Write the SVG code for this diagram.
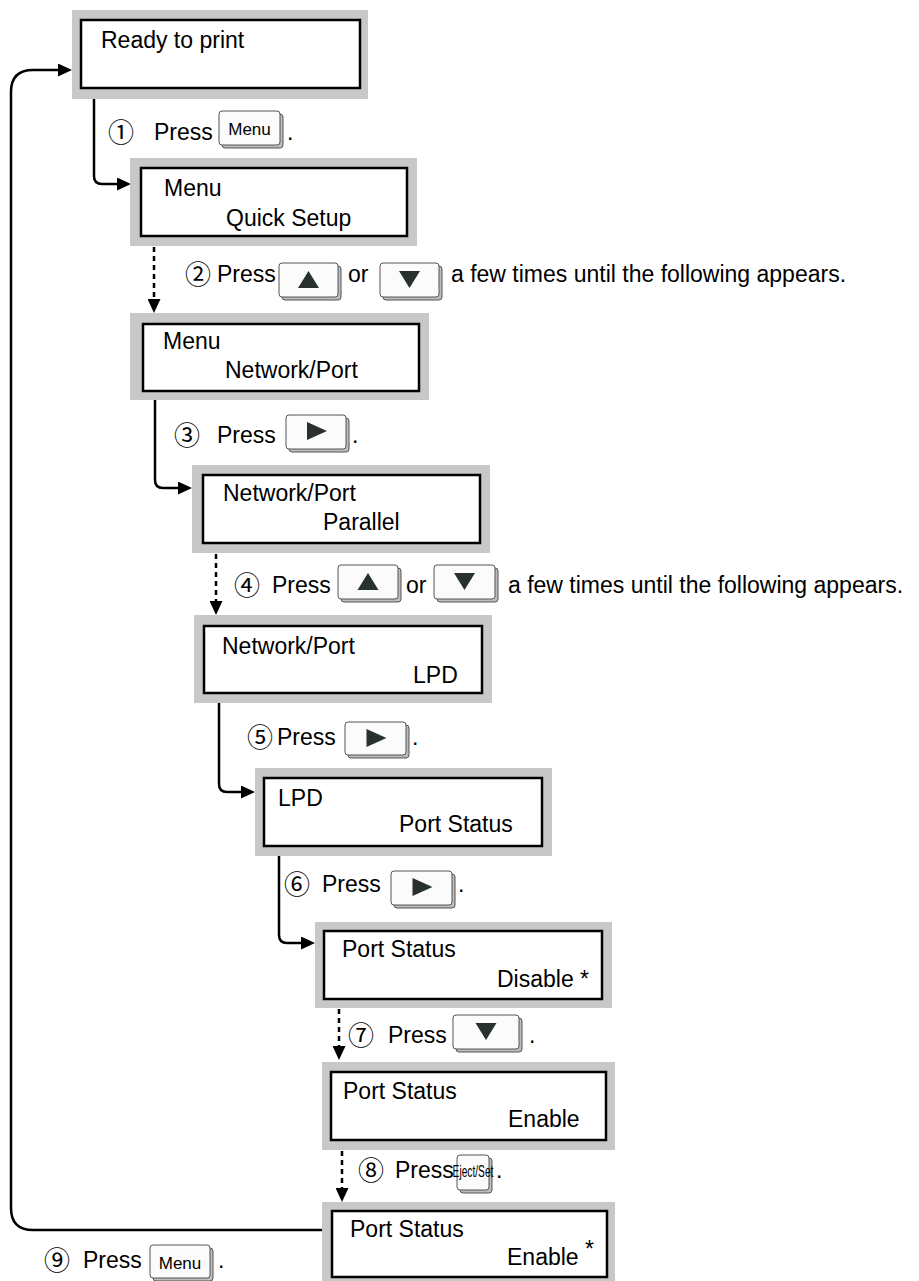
<svg xmlns="http://www.w3.org/2000/svg" width="919" height="1281" viewBox="0 0 919 1281">
<style>
.g{fill:#c8c8c8}
.in{fill:#fff;stroke:#000;stroke-width:2.5}
.t{font-family:"Liberation Sans",Arial,sans-serif;font-size:23px;fill:#000}
.c{font-family:"Noto Sans CJK JP","Noto Sans CJK SC",sans-serif;font-size:26px;fill:#000}
.conn{fill:none;stroke:#000;stroke-width:2.5}
.dash{stroke-dasharray:5 4}
.kb{fill:#bdbdbd;stroke:#555;stroke-width:1}
.kf{fill:#fbfbfb;stroke:#555;stroke-width:1}
.tri{fill:#283030}
.kt{font-family:"Liberation Sans",Arial,sans-serif;font-size:17px;fill:#000;text-anchor:middle}
</style>
<defs>
<marker id="ah" viewBox="0 0 14 13" refX="0" refY="6.5" markerWidth="14" markerHeight="13" markerUnits="userSpaceOnUse" orient="auto"><path d="M0,0 L14,6.5 L0,13z" fill="#000"/></marker>
</defs>
<rect width="919" height="1281" fill="#fff"/>

<g id="connectors">
<path class="conn" d="M94,99 V176 Q94,184 102,184 H117" marker-end="url(#ah)"/>
<path class="conn dash" d="M154,247 V299" marker-end="url(#ah)"/>
<path class="conn" d="M155,400 V480 Q155,488 163,488 H178" marker-end="url(#ah)"/>
<path class="conn dash" d="M216,554 V601" marker-end="url(#ah)"/>
<path class="conn" d="M219,703 V784 Q219,792 227,792 H241" marker-end="url(#ah)"/>
<path class="conn" d="M279,856 V935 Q279,943 287,943 H301" marker-end="url(#ah)"/>
<path class="conn dash" d="M339,1009 V1046" marker-end="url(#ah)"/>
<path class="conn dash" d="M342,1151 V1188" marker-end="url(#ah)"/>
<path class="conn" d="M322,1230 H33 Q11,1230 11,1208 V92 Q11,70 33,70 H58" marker-end="url(#ah)"/>
</g>

<g id="n1"><rect class="g" x="72" y="10" width="296" height="89"/><rect class="in" x="81" y="20" width="279" height="68"/><text class="t" x="101" y="48">Ready to print</text></g>
<g id="n2"><rect class="g" x="130" y="158" width="287" height="88"/><rect class="in" x="141" y="168" width="266" height="68"/><text class="t" x="164" y="196">Menu</text><text class="t" x="226" y="226">Quick Setup</text></g>
<g id="n3"><rect class="g" x="130" y="313" width="299" height="87"/><rect class="in" x="143" y="324" width="276" height="67"/><text class="t" x="163" y="349">Menu</text><text class="t" x="225" y="378">Network/Port</text></g>
<g id="n4"><rect class="g" x="192" y="465" width="298" height="88"/><rect class="in" x="203" y="475" width="277" height="68"/><text class="t" x="223" y="501">Network/Port</text><text class="t" x="323" y="530">Parallel</text></g>
<g id="n5"><rect class="g" x="194" y="615" width="298" height="88"/><rect class="in" x="204" y="626" width="278" height="67"/><text class="t" x="222" y="654">Network/Port</text><text class="t" x="413" y="683">LPD</text></g>
<g id="n6"><rect class="g" x="255" y="768" width="297" height="88"/><rect class="in" x="264" y="778" width="278" height="68"/><text class="t" x="278" y="806">LPD</text><text class="t" x="399" y="832">Port Status</text></g>
<g id="n7"><rect class="g" x="315" y="922" width="297" height="86"/><rect class="in" x="324" y="931" width="278" height="68"/><text class="t" x="342" y="957">Port Status</text><text class="t" x="497" y="987">Disable *</text></g>
<g id="n8"><rect class="g" x="322" y="1062" width="293" height="88"/><rect class="in" x="331" y="1072" width="275" height="68"/><text class="t" x="343" y="1099">Port Status</text><text class="t" x="508" y="1127">Enable</text></g>
<g id="n9"><rect class="g" x="322" y="1202" width="293" height="90"/><rect class="in" x="332" y="1211" width="275" height="66"/><text class="t" x="350" y="1237">Port Status</text><text class="t" x="507" y="1265">Enable</text><text class="t" x="585" y="1257">*</text></g>

<g id="labels">
<text class="c" x="108" y="142">①</text><text class="t" x="154" y="140">Press</text>
<rect class="kb" x="222" y="114" width="61" height="34" rx="3"/><rect class="kf" x="219" y="111" width="61" height="34" rx="3"/><text class="kt" x="249.5" y="135">Menu</text><text class="t" x="287" y="140">.</text>

<text class="c" x="185" y="284">②</text><text class="t" x="217" y="282">Press</text>
<rect class="kb" x="282" y="266" width="59" height="34" rx="3"/><rect class="kf" x="279" y="263" width="59" height="34" rx="3"/><polygon class="tri" points="298,288 319,288 308.5,271"/>
<text class="t" x="348" y="282">or</text>
<rect class="kb" x="383" y="266" width="59" height="34" rx="3"/><rect class="kf" x="380" y="263" width="59" height="34" rx="3"/><polygon class="tri" points="399,271 420,271 409.5,288"/>
<text class="t" x="451" y="282">a few times until the following appears.</text>

<text class="c" x="174" y="445">③</text><text class="t" x="217" y="443">Press</text>
<rect class="kb" x="289" y="418" width="60" height="34" rx="3"/><rect class="kf" x="286" y="415" width="60" height="34" rx="3"/><polygon class="tri" points="307,422 307,440 327,431"/><text class="t" x="352" y="443">.</text>

<text class="c" x="234" y="595">④</text><text class="t" x="272" y="593">Press</text>
<rect class="kb" x="341" y="568" width="60" height="34" rx="3"/><rect class="kf" x="338" y="565" width="60" height="34" rx="3"/><polygon class="tri" points="357.5,590 378.5,590 368,573"/>
<text class="t" x="406" y="593">or</text>
<rect class="kb" x="437" y="568" width="61" height="34" rx="3"/><rect class="kf" x="434" y="565" width="61" height="34" rx="3"/><polygon class="tri" points="454,573 475,573 464.5,590"/>
<text class="t" x="508" y="593">a few times until the following appears.</text>

<text class="c" x="247" y="747">⑤</text><text class="t" x="277" y="745">Press</text>
<rect class="kb" x="348" y="725" width="61" height="33" rx="3"/><rect class="kf" x="345" y="722" width="61" height="33" rx="3"/><polygon class="tri" points="366.5,729 366.5,747 386.5,738"/><text class="t" x="412" y="745">.</text>

<text class="c" x="284" y="894">⑥</text><text class="t" x="322" y="892">Press</text>
<rect class="kb" x="394" y="874" width="61" height="34" rx="3"/><rect class="kf" x="391" y="871" width="61" height="34" rx="3"/><polygon class="tri" points="412.5,878 412.5,896 432.5,887"/><text class="t" x="458" y="892">.</text>

<text class="c" x="348" y="1045">⑦</text><text class="t" x="388" y="1043">Press</text>
<rect class="kb" x="456" y="1018" width="66" height="34" rx="3"/><rect class="kf" x="453" y="1015" width="66" height="34" rx="3"/><polygon class="tri" points="475.5,1023 496.5,1023 486,1040"/><text class="t" x="529" y="1043">.</text>

<text class="c" x="358" y="1180">⑧</text><text class="t" x="395" y="1178">Press</text>
<rect class="kb" x="460" y="1158" width="32" height="35" rx="3"/><rect class="kf" x="457" y="1155" width="32" height="35" rx="3"/><text class="kt" transform="translate(473,1177) scale(0.6,1)" x="0" y="0" font-size="13">Eject/Set</text><text class="t" x="496" y="1178">.</text>

<text class="c" x="44" y="1270">⑨</text><text class="t" x="83" y="1268">Press</text>
<rect class="kb" x="153" y="1248" width="60" height="33" rx="3"/><rect class="kf" x="150" y="1245" width="60" height="33" rx="3"/><text class="kt" x="180" y="1269">Menu</text><text class="t" x="218" y="1268">.</text>
</g>
</svg>
